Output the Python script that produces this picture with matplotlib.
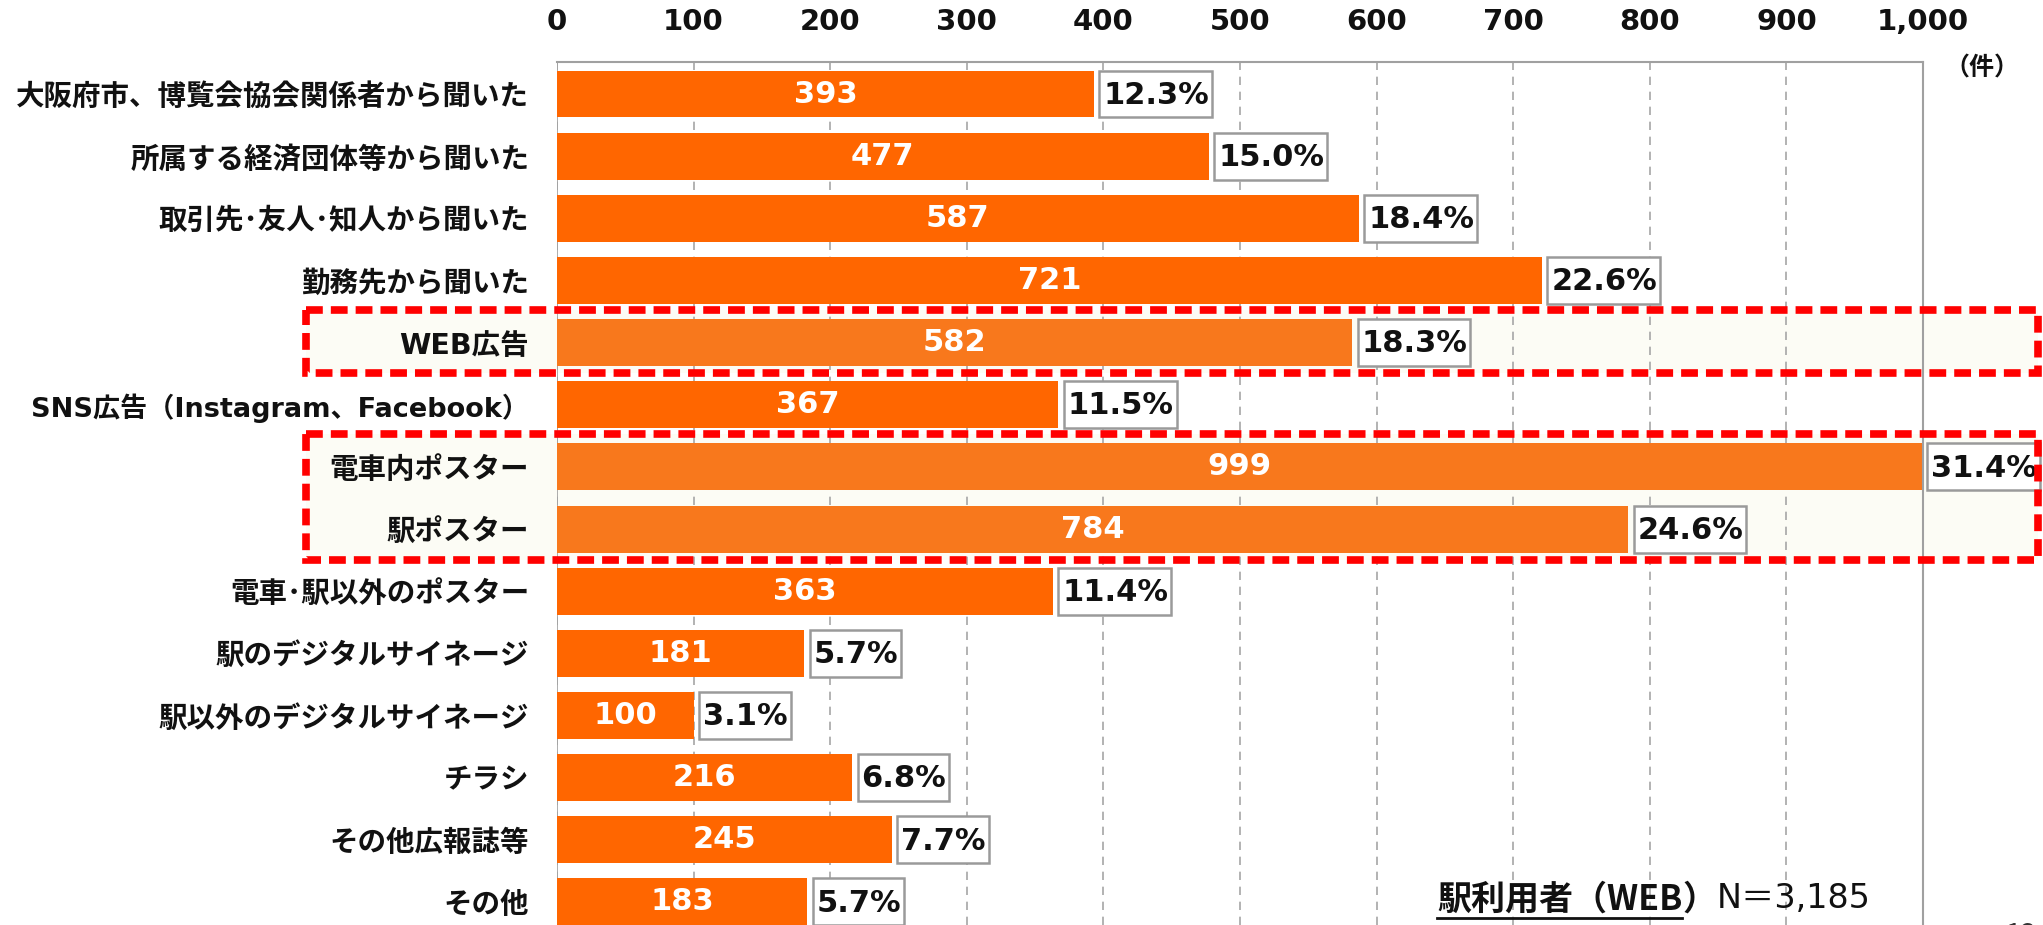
import matplotlib
matplotlib.use("Agg")
import matplotlib.pyplot as plt
import matplotlib.transforms as mtransforms
from matplotlib.patches import Rectangle
from matplotlib.lines import Line2D

plt.rcParams['font.family'] = ['Noto Sans CJK JP', 'DejaVu Sans']

# data
labels = ["大阪府市、博覧会協会関係者から聞いた", "所属する経済団体等から聞いた",
          "取引先･友人･知人から聞いた", "勤務先から聞いた", "WEB広告",
          "SNS広告（Instagram、Facebook）", "電車内ポスター", "駅ポスター",
          "電車･駅以外のポスター", "駅のデジタルサイネージ", "駅以外のデジタルサイネージ",
          "チラシ", "その他広報誌等", "その他"]
counts = [393, 477, 587, 721, 582, 367, 999, 784, 363, 181, 100, 216, 245, 183]
pcts = [12.3, 15.0, 18.4, 22.6, 18.3, 11.5, 31.4, 24.6, 11.4, 5.7, 3.1, 6.8, 7.7, 5.7]
xticks = [0, 100, 200, 300, 400, 500, 600, 700, 800, 900, 1000]
xticklabels = ["0", "100", "200", "300", "400", "500", "600", "700", "800", "900", "1,000"]
highlight_groups = [[4], [6, 7]]
n_total = "3,185"

orange = "#FF6600"
orange_hl = "#F8781C"
num_font = ['DejaVu Sans', 'Noto Sans CJK JP']

fig = plt.figure(figsize=(20.43, 9.25), dpi=100)
ax = fig.add_axes([557 / 2043, 0, 1366 / 2043, 1 - 62 / 925])

hl_rows = [i for g in highlight_groups for i in g]
colors = [orange_hl if i in hl_rows else orange for i in range(len(counts))]
ypos = list(range(len(counts)))
ax.barh(ypos, counts, height=0.756, color=colors, zorder=2)

ax.set_xlim(0, 1000)
ax.set_ylim(13.371, -0.515)
ax.xaxis.tick_top()
ax.set_xticks(xticks)
ax.set_xticklabels(xticklabels, fontsize=21, fontweight='bold', family=num_font,
                   color='#111111')
ax.set_yticks(ypos)
ax.set_yticklabels(labels, fontsize=20.5, fontweight='bold', color='#111111',
                   family=num_font)
# the long SNS label is a little tighter so it fits the left edge
ax.get_yticklabels()[5].set_fontsize(19.5)
ax.tick_params(axis='x', length=0, pad=19)
ax.tick_params(axis='y', length=0, pad=20)
ax.grid(axis='x', color='#A6A6A6', linestyle=(0, (5, 4)), linewidth=1.2)
ax.set_axisbelow(True)
for s in ['bottom', 'left']:
    ax.spines[s].set_visible(False)
for s in ['top', 'right']:
    ax.spines[s].set_color('#A0A0A0')
    ax.spines[s].set_linewidth(1.5)
ax.axvline(0, color='#A0A0A0', linewidth=1.2, zorder=1)

# values inside bars
for i, v in enumerate(counts):
    ax.text(v / 2, i, str(v), ha='center', va='center', color='white',
            fontsize=22, fontweight='bold', family=num_font, zorder=3)

# percent boxes
fig.canvas.draw()
renderer = fig.canvas.get_renderer()
inv = ax.transData.inverted()
for i, (v, p) in enumerate(zip(counts, pcts)):
    t = ax.text(v + 7, i + 0.02, f"{p:.1f}%", ha='left', va='center', color='#111111',
                fontsize=22, fontweight='bold', family=num_font, zorder=4,
                clip_on=False)
    bb = t.get_window_extent(renderer)
    x0 = inv.transform((bb.x0 - 4, 0))[0]
    x1 = inv.transform((bb.x1 + 3, 0))[0]
    ax.add_patch(Rectangle((x0, i - 0.378), x1 - x0, 0.756, facecolor='white',
                           edgecolor='#9A9A9A', linewidth=1.8, zorder=3, clip_on=False))

# red dashed highlight boxes
trans = mtransforms.blended_transform_factory(ax.transAxes, ax.transData)
bx0 = (306 - 557) / 1366
bx1 = (2038 - 557) / 1366
for g in highlight_groups:
    top = min(g) - 0.53
    bot = max(g) + 0.49
    ax.add_patch(Rectangle((bx0, top), bx1 - bx0, bot - top, transform=trans,
                           facecolor='#FCFCF5', edgecolor='none', zorder=0.1, clip_on=False))
    ax.add_patch(Rectangle((bx0, top), bx1 - bx0, bot - top, transform=trans,
                           facecolor='none', edgecolor='#FF0000', linewidth=5.5,
                           linestyle=(0, (2.2, 1.05)), zorder=6, clip_on=False))

fig.text(1982 / 2043, 1 - 68 / 925, "（件）", ha='center', va='center',
         fontsize=18, fontweight='bold', color='#111111')

# sample size note
ny = 1 - 899 / 925
t1 = fig.text(1437 / 2043, ny, "駅利用者（WEB", ha='left', va='center',
              fontsize=24.5, fontweight='bold', color='#111111', family=num_font[::-1])
bb1 = t1.get_window_extent(renderer)
t2 = fig.text(bb1.x1 / 2043, ny, "）", ha='left', va='center',
              fontsize=24.5, fontweight='bold', color='#111111')
bb2 = t2.get_window_extent(renderer)
fig.text(bb2.x1 / 2043, ny, "N＝" + n_total, ha='left', va='center',
         fontsize=24, color='#111111', family=num_font)
fig.add_artist(Line2D([bb1.x0 / 2043, bb1.x1 / 2043], [1 - 918 / 925, 1 - 918 / 925],
                      color='#111111', linewidth=2))

# page number, cut by the bottom edge as in the original slide
fig.text(2021 / 2043, 1 - 921 / 925, "13", ha='center', va='top', fontsize=20,
         color='#333333')

fig.savefig("out.png", dpi=100)
